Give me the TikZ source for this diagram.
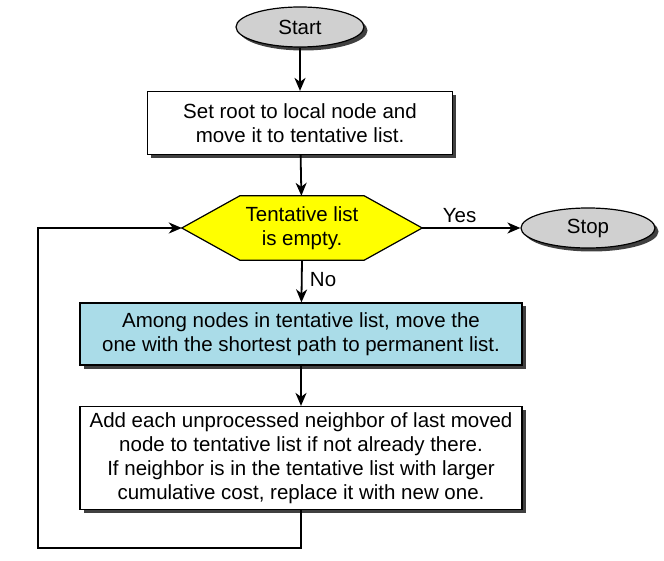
\documentclass[tikz,border=0pt]{standalone}
\usepackage{fontspec}
\setmainfont{Liberation Sans}
\usetikzlibrary{arrows.meta,shapes.geometric,shadows,backgrounds}
\definecolor{termgray}{RGB}{208,208,208}
\definecolor{decyellow}{RGB}{255,255,0}
\definecolor{procblue}{RGB}{170,220,232}
\begin{document}
\begin{tikzpicture}[x=1pt,y=-1pt,
  font=\fontsize{20.5}{24}\selectfont,
  shad/.style={drop shadow={shadow xshift=3.5pt,shadow yshift=-3.5pt,fill=black!75,opacity=1}},
  term/.style={ellipse,draw,line width=1.2pt,fill=termgray,inner sep=0pt,shad},
  proc/.style={rectangle,draw,line width=1.2pt,fill=white,align=center,inner sep=0pt,shad},
  decbox/.style={rectangle,align=center,inner sep=0pt,minimum width=240pt,minimum height=64pt},
  conn/.style={line width=1.8pt,-{Stealth[length=13pt,width=11pt,inset=4pt]}},
  lbl/.style={font=\fontsize{20.5}{24}\selectfont}
]
\useasboundingbox (0,0) rectangle (664,561);
\node[term,minimum width=128pt,minimum height=40pt] (start) at (300,27) {Start};
\node[proc,minimum width=305pt,minimum height=63pt] (b1) at (300,123) {Set root to local node and\\move it to tentative list.};
\node[decbox] (d) at (302,228) {Tentative list\\is empty.};
\begin{scope}[on background layer]
  \fill[black!75,shift={(3.5,3.5)}] (d.west) -- ([xshift=58pt]d.north west) -- ([xshift=-58pt]d.north east) -- (d.east) -- ([xshift=-58pt]d.south east) -- ([xshift=58pt]d.south west) -- cycle;
  \draw[line width=1.2pt,fill=decyellow] (d.west) -- ([xshift=58pt]d.north west) -- ([xshift=-58pt]d.north east) -- (d.east) -- ([xshift=-58pt]d.south east) -- ([xshift=58pt]d.south west) -- cycle;
\end{scope}
\node[term,minimum width=134pt,minimum height=40pt] (stop) at (588,228) {Stop};
\node[proc,fill=procblue,minimum width=442pt,minimum height=62pt] (b2) at (301,334) {Among nodes in tentative list, move the\\one with the shortest path to permanent list.};
\node[proc,minimum width=442pt,minimum height=103pt] (b3) at (301,458) {Add each unprocessed neighbor of last moved\\node to tentative list if not already there.\\If neighbor is in the tentative list with larger\\cumulative cost, replace it with new one.};
\coordinate (lp) at (38,548);
\draw[conn] (start) -- (b1);
\draw[conn] (b1) -- (d);
\draw[conn] (d.east) -- node[lbl,above=1pt,pos=0.38] {Yes} (stop);
\draw[conn] (d.south) -- node[lbl,right=4pt,pos=0.45] {No} (b2);
\draw[conn] (b2) -- (b3);
\draw[conn] (b3.south) |- (lp) |- (d.west);
\end{tikzpicture}
\end{document}
